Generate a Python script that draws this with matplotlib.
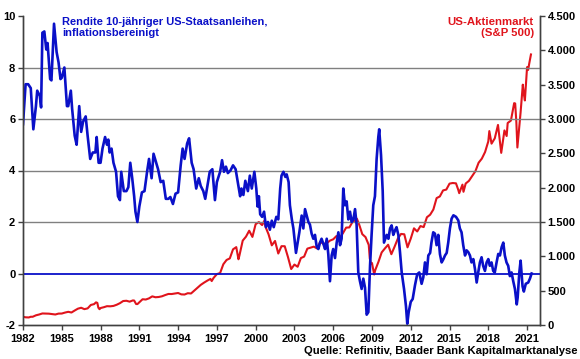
import matplotlib
matplotlib.use('Agg')
import matplotlib.pyplot as plt
from matplotlib.ticker import FuncFormatter

plt.rcParams['font.family'] = ['Liberation Sans', 'DejaVu Sans']
plt.rcParams['font.weight'] = 'bold'
plt.rcParams['axes.unicode_minus'] = False

# %% data
# real 10y US treasury yield (left axis, %)
yield_t = [1982.0, 1982.2, 1982.4, 1982.6, 1982.8, 1983.0, 1983.1, 1983.3, 1983.4, 1983.5,
           1983.65, 1983.8, 1983.9, 1984.1, 1984.2, 1984.4, 1984.6, 1984.75, 1984.9, 1985.0,
           1985.2, 1985.4, 1985.5, 1985.7, 1985.8, 1986.0, 1986.15, 1986.35, 1986.5, 1986.65,
           1986.85, 1987.0, 1987.2, 1987.4, 1987.6, 1987.7, 1987.85, 1988.0, 1988.15, 1988.35,
           1988.5, 1988.6, 1988.7, 1988.85, 1989.0, 1989.2, 1989.35, 1989.5, 1989.6, 1989.8,
           1990.0, 1990.15, 1990.3, 1990.45, 1990.6, 1990.7, 1990.85, 1991.0, 1991.2, 1991.4,
           1991.6, 1991.75, 1991.95, 1992.1, 1992.3, 1992.45, 1992.65, 1992.85, 1993.05, 1993.25,
           1993.4, 1993.6, 1993.8, 1994.0, 1994.2, 1994.35, 1994.5, 1994.7, 1994.85, 1995.05,
           1995.2, 1995.4, 1995.6, 1995.75, 1995.95, 1996.1, 1996.3, 1996.45, 1996.65, 1996.85,
           1997.0, 1997.25, 1997.4, 1997.55, 1997.7, 1997.85, 1998.05, 1998.25, 1998.45, 1998.65,
           1998.8, 1998.9, 1999.05, 1999.2, 1999.4, 1999.55, 1999.7, 1999.9, 2000.05, 2000.15,
           2000.25, 2000.35, 2000.5, 2000.65, 2000.8, 2000.95, 2001.1, 2001.25, 2001.4, 2001.6,
           2001.75, 2001.9, 2002.0, 2002.15, 2002.3, 2002.4, 2002.55, 2002.65, 2002.8, 2002.92,
           2003.12, 2003.25, 2003.38, 2003.56, 2003.69, 2003.82, 2003.95, 2004.08, 2004.2, 2004.33,
           2004.46, 2004.59, 2004.72, 2004.85, 2004.98, 2005.1, 2005.24, 2005.37, 2005.5, 2005.62,
           2005.75, 2005.88, 2006.0, 2006.14, 2006.27, 2006.4, 2006.53, 2006.65, 2006.78, 2006.91,
           2007.04, 2007.17, 2007.3, 2007.43, 2007.56, 2007.69, 2007.81, 2007.94, 2008.07, 2008.2,
           2008.33, 2008.46, 2008.59, 2008.72, 2008.85, 2008.97, 2009.1, 2009.23, 2009.36, 2009.49,
           2009.56, 2009.7, 2009.83, 2009.93, 2010.14, 2010.27, 2010.4, 2010.52, 2010.65, 2010.78,
           2010.9, 2011.04, 2011.17, 2011.3, 2011.48, 2011.63, 2011.73, 2011.84, 2012.0, 2012.15,
           2012.33, 2012.5, 2012.66, 2012.84, 2012.97, 2013.1, 2013.23, 2013.36, 2013.5, 2013.6,
           2013.74, 2013.87, 2014.0, 2014.13, 2014.26, 2014.39, 2014.52, 2014.65, 2014.78, 2014.9,
           2015.03, 2015.16, 2015.3, 2015.5, 2015.68, 2015.8, 2015.93, 2016.06, 2016.2, 2016.32,
           2016.45, 2016.58, 2016.7, 2016.84, 2016.97, 2017.1, 2017.22, 2017.35, 2017.48, 2017.6,
           2017.74, 2017.87, 2018.0, 2018.12, 2018.25, 2018.38, 2018.5, 2018.64, 2018.77, 2018.9,
           2019.03, 2019.16, 2019.28, 2019.41, 2019.54, 2019.67, 2019.8, 2019.93, 2020.06, 2020.2,
           2020.27, 2020.4, 2020.5, 2020.65, 2020.75, 2020.9, 2021.09, 2021.22, 2021.35]
yield_v = [5.8, 7.35, 7.35, 7.2, 5.6, 6.5, 7.1, 6.9, 6.45, 9.35,
           9.4, 8.7, 8.95, 7.55, 7.5, 9.7, 8.6, 8.2, 7.55, 7.6,
           8.0, 6.5, 6.5, 7.1, 6.4, 5.35, 5.0, 6.5, 5.5, 5.9,
           6.1, 5.35, 4.45, 4.7, 4.7, 5.3, 4.3, 4.3, 4.85, 5.3,
           5.0, 5.2, 4.7, 4.85, 4.3, 3.95, 3.0, 2.85, 3.95, 3.2,
           3.2, 3.35, 4.3, 3.7, 3.0, 2.4, 2.0, 2.6, 3.15, 3.2,
           3.95, 4.45, 3.7, 4.65, 4.3, 4.05, 3.55, 3.6, 2.9, 2.9,
           2.97, 2.7, 3.1, 3.15, 4.2, 4.85, 4.45, 5.05, 5.25, 4.3,
           4.05, 3.3, 3.7, 3.4, 3.2, 2.9, 3.5, 3.95, 4.05, 2.85,
           3.55, 3.95, 4.4, 3.95, 4.15, 3.9, 4.0, 4.2, 4.05, 3.45,
           3.0, 3.3, 3.05, 3.6, 3.2, 3.8, 3.3, 3.95, 3.3, 2.6,
           3.0, 2.3, 2.2, 2.4, 1.8, 2.0, 1.7, 2.05, 1.8, 2.2,
           2.1, 3.3, 3.8, 3.95, 3.75, 3.85, 3.55, 2.65, 2.1, 1.75,
           0.8, 1.2, 1.6, 2.25, 1.75, 2.5, 2.25, 2.0, 1.9, 1.55,
           1.35, 1.5, 1.05, 0.95, 1.2, 1.35, 1.15, 0.95, 1.35, 0.75,
           -0.3, 0.7, 0.95, 0.6, 1.2, 1.6, 1.1, 1.35, 3.3, 2.65,
           2.8, 2.1, 2.4, 2.0, 2.1, 2.5, 1.9, 0.05, -0.3, -0.6,
           -0.2, -0.55, -1.6, -1.5, 0.3, 1.5, 2.65, 3.0, 4.45, 5.3,
           5.6, 4.6, 3.2, 1.2, 1.5, 1.35, 1.75, 1.87, 1.5, 1.67,
           1.8, 1.5, 0.82, 0.04, -0.6, -1.27, -1.95, -1.5, -1.1, -0.99,
           -0.45, -0.03, 0.04, -0.4, -0.15, 0.43, -0.03, 0.7, 0.8, 1.2,
           1.6, 1.55, 1.1, 1.5, 0.75, 0.43, 0.55, 0.7, 0.8, 1.2,
           1.75, 2.13, 2.26, 2.2, 2.06, 1.75, 1.6, 1.1, 0.7, 0.9,
           0.83, 0.7, 0.43, 0.56, 0.17, -0.35, 0.04, 0.43, 0.63, 0.3,
           0.1, 0.43, 0.56, 0.3, 0.43, 0.1, 0.04, 0.43, 0.76, 0.7,
           1.02, 1.2, 0.7, 0.43, 0.3, -0.1, 0.04, -0.3, -0.6, -1.2,
           -0.94, 0.04, 0.5, -0.5, -0.7, -0.4, -0.35, -0.2, 0.0]

# S&P 500 index level (right axis)
spx_t = [1982.0, 1982.2, 1982.45, 1982.6, 1982.75, 1983.0, 1983.25, 1983.5, 1983.75, 1984.0,
         1984.25, 1984.5, 1984.75, 1985.0, 1985.25, 1985.5, 1985.75, 1986.0, 1986.25, 1986.5,
         1986.75, 1987.0, 1987.25, 1987.5, 1987.65, 1987.75, 1987.83, 1987.92, 1988.0, 1988.25,
         1988.5, 1988.75, 1989.0, 1989.25, 1989.5, 1989.75, 1990.0, 1990.25, 1990.5, 1990.6,
         1990.75, 1990.85, 1991.0, 1991.25, 1991.5, 1991.75, 1992.0, 1992.25, 1992.5, 1992.75,
         1993.0, 1993.25, 1993.5, 1993.75, 1994.0, 1994.25, 1994.5, 1994.75, 1995.0, 1995.25,
         1995.5, 1995.75, 1996.0, 1996.25, 1996.5, 1996.6, 1996.75, 1997.0, 1997.25, 1997.5,
         1997.75, 1998.0, 1998.25, 1998.5, 1998.67, 1998.75, 1999.0, 1999.25, 1999.5, 1999.75,
         2000.0, 2000.25, 2000.5, 2000.67, 2000.75, 2001.0, 2001.25, 2001.5, 2001.75, 2002.0,
         2002.25, 2002.5, 2002.75, 2003.0, 2003.25, 2003.5, 2003.75, 2004.0, 2004.25, 2004.5,
         2004.75, 2005.0, 2005.25, 2005.5, 2005.75, 2006.0, 2006.25, 2006.5, 2006.75, 2007.0,
         2007.25, 2007.5, 2007.75, 2007.83, 2008.0, 2008.25, 2008.5, 2008.75, 2008.83, 2008.92,
         2009.0, 2009.17, 2009.25, 2009.5, 2009.75, 2010.0, 2010.25, 2010.5, 2010.75, 2011.0,
         2011.25, 2011.5, 2011.75, 2012.0, 2012.25, 2012.5, 2012.75, 2013.0, 2013.25, 2013.5,
         2013.75, 2014.0, 2014.25, 2014.5, 2014.75, 2015.0, 2015.25, 2015.5, 2015.67, 2015.75,
         2016.0, 2016.08, 2016.25, 2016.5, 2016.75, 2017.0, 2017.25, 2017.5, 2017.75, 2018.0,
         2018.08, 2018.25, 2018.5, 2018.75, 2019.0, 2019.25, 2019.42, 2019.5, 2019.75, 2020.0,
         2020.08, 2020.17, 2020.25, 2020.5, 2020.67, 2020.75, 2020.83, 2021.0, 2021.08, 2021.17,
         2021.3]
spx_v = [120, 112, 110, 120, 120, 141, 153, 168, 166, 165,
         159, 153, 166, 167, 181, 192, 182, 211, 238, 251,
         231, 242, 292, 304, 330, 322, 252, 230, 247, 259,
         274, 272, 278, 295, 318, 349, 353, 340, 358, 356,
         306, 304, 330, 375, 371, 388, 417, 404, 408, 418,
         436, 452, 451, 459, 466, 446, 444, 463, 459, 501,
         545, 584, 616, 645, 671, 640, 687, 741, 757, 885,
         947, 970, 1102, 1134, 957, 1017, 1229, 1286, 1373, 1283,
         1469, 1499, 1455, 1517, 1436, 1320, 1160, 1224, 1041, 1148,
         1147, 990, 815, 880, 848, 975, 996, 1112, 1126, 1141,
         1115, 1212, 1181, 1191, 1229, 1248, 1295, 1270, 1336, 1418,
         1421, 1503, 1527, 1549, 1468, 1323, 1280, 1166, 969, 896,
         903, 735, 798, 919, 1057, 1115, 1169, 1031, 1141, 1258,
         1326, 1321, 1131, 1258, 1408, 1362, 1441, 1426, 1569, 1606,
         1682, 1848, 1872, 1960, 1972, 2059, 2068, 2063, 1972, 1920,
         2044, 1940, 2060, 2099, 2168, 2239, 2363, 2423, 2519, 2674,
         2824, 2641, 2718, 2914, 2507, 2834, 2752, 2942, 2977, 3231,
         3226, 2954, 2585, 3100, 3500, 3363, 3270, 3756, 3714, 3811,
         3940]

left_ticks = [-2, 0, 2, 4, 6, 8, 10]
right_ticks = [0, 500, 1000, 1500, 2000, 2500, 3000, 3500, 4000, 4500]
year_ticks = list(range(1982, 2022, 3))

blue = '#0a10c8'
red = '#e0141c'

# %% plotting
fig = plt.figure(figsize=(5.8, 3.59), dpi=100)
ax = fig.add_axes([23/580, 1-325/359, 517/580, 309/359])
ax2 = ax.twinx()
ax.set_zorder(ax2.get_zorder() + 1)
ax.patch.set_visible(False)

ax2.plot(spx_t, spx_v, color=red, lw=1.5)
ax.plot(yield_t, yield_v, color=blue, lw=1.9)
ax.axhline(0, color=blue, lw=1.3)

ax.set_xlim(1982, 2022)
ax.set_ylim(-2, 10)
ax2.set_ylim(0, 4500)
ax.set_xticks(year_ticks)
ax.set_yticks(left_ticks)
ax2.set_yticks(right_ticks)
ax2.yaxis.set_major_formatter(FuncFormatter(lambda v, p: f'{int(v):,}'.replace(',', '.')))

for y in [2, 4, 6, 8]:
    ax.axhline(y, color='#808080', lw=1.0, zorder=0)

for a in (ax, ax2):
    a.spines['top'].set_visible(False)
    for s in ('left', 'right', 'bottom'):
        a.spines[s].set_color('#404040')
        a.spines[s].set_linewidth(1.0)
    a.tick_params(length=3.5, width=1.0, color='#404040', labelsize=8, pad=2)
ax.tick_params(axis='x', pad=3)

fig.text(62/580, 1-17/359, 'Rendite 10-jähriger US-Staatsanleihen,\ninflationsbereinigt',
         color=blue, fontsize=8, fontweight='bold', va='top', ha='left', linespacing=1.15)
fig.text(534/580, 1-17/359, 'US-Aktienmarkt\n(S&P 500)', color=red, fontsize=8.2,
         fontweight='bold', va='top', ha='right', multialignment='right', linespacing=1.15)
fig.text(578/580, 1-351/359, 'Quelle: Refinitiv, Baader Bank Kapitalmarktanalyse',
         fontsize=8.1, fontweight='bold', va='center', ha='right')

fig.savefig('out.png', dpi=100)
